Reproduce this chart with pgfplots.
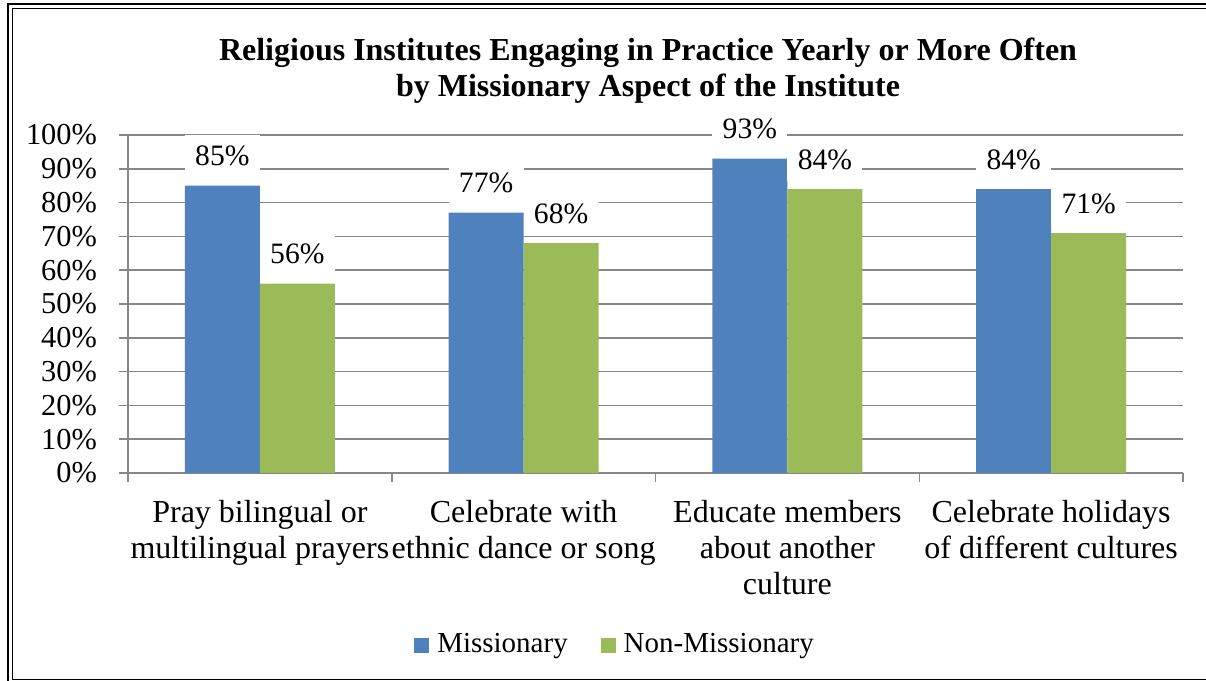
\documentclass[border=0pt]{standalone}
\usepackage{fontspec}
\setmainfont{Liberation Serif}
\usepackage{pgfplots}
\pgfplotsset{compat=1.18}
\definecolor{mblue}{HTML}{4F81BD}
\definecolor{mgreen}{HTML}{9BBB59}
\definecolor{gridgray}{HTML}{878787}
\newcommand{\cf}{\fontsize{16bp}{17.8bp}\selectfont}
\newcommand{\tf}{\fontsize{15.2bp}{17.8bp}\selectfont}
\newcommand{\df}{\fontsize{14.8bp}{17.8bp}\selectfont}
\newcommand{\lf}{\fontsize{14.5bp}{17.8bp}\selectfont}
\begin{document}
\cf
\begin{tikzpicture}
\path[use as bounding box] (0,0) rectangle (603bp,340.5bp);
% frame
\draw[line width=1.2bp] (4bp,0) -- (4bp,338.5bp) -- (603bp,338.5bp);
\draw[line width=0.6bp] (603bp,0.85bp) -- (6.25bp,0.85bp) -- (6.25bp,336.25bp) -- (603bp,336.25bp);
\node[font=\cf\bfseries, align=center, anchor=north, inner sep=0pt] at (324bp,321.5bp)
  {Religious Institutes Engaging in Practice Yearly or More Often\\by Missionary Aspect of the Institute};
\begin{axis}[
  at={(64bp,104bp)}, anchor=south west, scale only axis,
  width=527.5bp, height=169bp,
  ymin=0, ymax=100, xmin=-0.5, xmax=3.5,
  ybar=0pt, bar width=37.5bp,
  axis lines*=left,
  axis line style={draw=gridgray, line width=0.75bp, -},
  ytick={0,10,...,100},
  yticklabels={0\%,10\%,20\%,30\%,40\%,50\%,60\%,70\%,80\%,90\%,100\%},
  ymajorgrids, grid style={draw=gridgray, line width=0.75bp},
  xtick={0,1,2,3},
  xticklabels={Pray bilingual or\\multilingual prayers, Celebrate with\\ethnic dance or song, Educate members\\about another\\culture, Celebrate holidays\\of different cultures},
  x tick label style={align=center, font=\cf, yshift=-3.8bp},
  y tick label style={font=\tf, xshift=-5.5bp},
  major x tick style={draw=none},
  minor xtick={-0.5,0.5,1.5,2.5,3.5},
  tick align=outside, major tick length=4.5bp, minor tick length=4.5bp,
  tick style={draw=gridgray, line width=0.75bp},
  nodes near coords={\pgfmathprintnumber[assume math mode=true]{\pgfplotspointmeta}\%},
  every node near coord/.append style={font=\df, fill=white, minimum width=37.5bp, minimum height=21bp, inner sep=0pt, anchor=south, yshift=4bp},
  legend columns=2,
  legend style={at={(0.4626,-0.509)}, anchor=center, draw=none, font=\lf,
    /tikz/every odd column/.append style={column sep=2bp},
    /tikz/every even column/.append style={column sep=14.5bp}},
  legend image code/.code={\fill[#1,draw=none] (1bp,-3.75bp) rectangle (8.5bp,3.75bp);},
]
\addplot[fill=mblue, draw=none] coordinates {(0,85) (1,77) (2,93) (3,84)};
\addplot[fill=mgreen, draw=none] coordinates {(0,56) (1,68) (2,84) (3,71)};
\legend{Missionary, Non-Missionary}
\end{axis}
\end{tikzpicture}
\end{document}
